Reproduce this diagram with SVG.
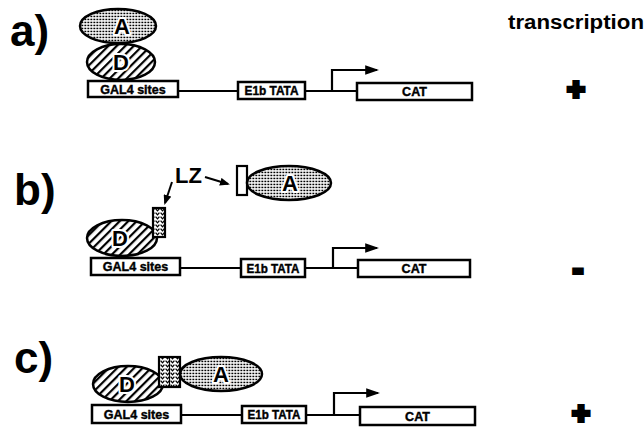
<svg xmlns="http://www.w3.org/2000/svg" width="644" height="430" viewBox="0 0 644 430">
  <style>
    .bg { fill: #ffffff; }
    .box { fill: #ffffff; stroke: #000; stroke-width: 2.5; }
    .dom { stroke: #000; stroke-width: 2.5; }
    .act { fill: url(#dots); }
    .dbd { fill: url(#hatch); }
    .wire { fill: none; stroke: #000; stroke-width: 2.2; }
    .ptr { fill: none; stroke: #000; stroke-width: 2; }
    text { font-family: "Liberation Sans", Arial, Helvetica, sans-serif; font-weight: bold; fill: #000; }
    .panel { font-size: 44px; }
    .boxlbl { font-size: 12.5px; text-anchor: middle; stroke: #000; stroke-width: 0.4; }
    .domlbl { font-size: 22px; text-anchor: middle; stroke: #fff; stroke-width: 4; paint-order: stroke; stroke-linejoin: round; }
    .sign { font-size: 30px; text-anchor: middle; stroke: #000; stroke-width: 4; }
  </style>
  <defs>
    <!-- stippled fill of the activation domain -->
    <pattern id="dots" width="3" height="3" patternUnits="userSpaceOnUse">
      <rect width="3" height="3" fill="#fff"/>
      <rect x="0.4" y="0.7" width="1.9" height="1.5" fill="#000"/>
    </pattern>
    <!-- diagonal hatching of the DNA-binding domain -->
    <pattern id="hatch" width="6" height="6" patternUnits="userSpaceOnUse" patternTransform="rotate(45)">
      <rect width="6" height="6" fill="#fff"/>
      <line x1="1" y1="0" x2="1" y2="6" stroke="#000" stroke-width="2.4"/>
    </pattern>
    <!-- chevrons of the leucine zipper -->
    <pattern id="zip" width="5" height="4" patternUnits="userSpaceOnUse">
      <rect width="5" height="4" fill="#fff"/>
      <path d="M0.6,0.6 L2.5,2.8 L4.4,0.6" fill="none" stroke="#000" stroke-width="1.3"/>
    </pattern>
    <marker id="head" viewBox="0 0 12 8" refX="10" refY="4" markerWidth="6.5" markerHeight="4.3" markerUnits="strokeWidth" orient="auto">
      <path d="M0,0 L12,4 L0,8 z" fill="#000"/>
    </marker>
    <marker id="tip" viewBox="0 0 10 8" refX="8" refY="4" markerWidth="5" markerHeight="4" markerUnits="strokeWidth" orient="auto">
      <path d="M0,0 L10,4 L0,8 z" fill="#000"/>
    </marker>
  </defs>

  <rect class="bg" width="644" height="430"/>

  <!-- connectors: DNA backbone, transcription start arrows, LZ pointers -->
  <g id="connectors">
    <path class="wire" d="M178,91 H238 M305,91 H357"/>
    <path class="wire" d="M332,91 V70 H377" marker-end="url(#head)"/>

    <path class="wire" d="M180,268 H241 M305,268 H358"/>
    <path class="wire" d="M333,268 V248 H377" marker-end="url(#head)"/>

    <path class="wire" d="M181,415 H242 M306,415 H360"/>
    <path class="wire" d="M334,415 V393 H378" marker-end="url(#head)"/>

    <path class="ptr" d="M172,182 L165,203" marker-end="url(#tip)"/>
    <path class="ptr" d="M205,177 L228,184" marker-end="url(#tip)"/>
  </g>

  <!-- panel labels and transcription column -->
  <text class="panel" x="10" y="46">a)</text>
  <text class="panel" x="14" y="205">b)</text>
  <text class="panel" x="14" y="373">c)</text>
  <text x="508" y="29" font-size="20" textLength="136" lengthAdjust="spacingAndGlyphs">transcription</text>
  <text class="sign" x="576" y="99">+</text>
  <text class="sign" x="578" y="279">-</text>
  <text class="sign" x="581" y="423">+</text>

  <!-- panel a: GAL4-D fused to A -->
  <g id="a-activator">
    <ellipse class="dom act" cx="118" cy="26" rx="38" ry="17"/>
    <text class="domlbl" x="122" y="34">A</text>
  </g>
  <g id="a-binder">
    <ellipse class="dom dbd" cx="121" cy="62" rx="34" ry="18"/>
    <text class="domlbl" x="121" y="70">D</text>
  </g>
  <g id="a-gal4">
    <rect class="box" x="88" y="81" width="90" height="16"/>
    <text class="boxlbl" x="133" y="93.5" font-size="11">GAL4 sites</text>
  </g>
  <g id="a-tata">
    <rect class="box" x="238" y="82" width="67" height="17"/>
    <text class="boxlbl" x="271.5" y="95" textLength="54" lengthAdjust="spacingAndGlyphs">E1b TATA</text>
  </g>
  <g id="a-cat">
    <rect class="box" x="357" y="83" width="115" height="17"/>
    <text class="boxlbl" x="414.5" y="96">CAT</text>
  </g>

  <!-- panel b: separate D-LZ and LZ-A -->
  <g id="b-binder">
    <ellipse class="dom dbd" cx="122" cy="238" rx="35" ry="18"/>
    <text class="domlbl" x="120" y="246">D</text>
    <rect x="153" y="208" width="12" height="29" fill="url(#zip)" stroke="#000" stroke-width="2.2"/>
  </g>
  <text x="175" y="183" font-size="22">LZ</text>
  <g id="b-activator">
    <rect x="237" y="166" width="10" height="29" fill="#fff" stroke="#000" stroke-width="2.2"/>
    <ellipse class="dom act" cx="289" cy="183" rx="42" ry="17"/>
    <text class="domlbl" x="290" y="191">A</text>
  </g>
  <g id="b-gal4">
    <rect class="box" x="91" y="258" width="89" height="17"/>
    <text class="boxlbl" x="135.5" y="271" font-size="11">GAL4 sites</text>
  </g>
  <g id="b-tata">
    <rect class="box" x="241" y="259" width="64" height="18"/>
    <text class="boxlbl" x="273" y="272.5" textLength="53" lengthAdjust="spacingAndGlyphs">E1b TATA</text>
  </g>
  <g id="b-cat">
    <rect class="box" x="358" y="260" width="112" height="17"/>
    <text class="boxlbl" x="414" y="273">CAT</text>
  </g>

  <!-- panel c: LZ dimer bridges D and A -->
  <g id="c-binder">
    <ellipse class="dom dbd" cx="128" cy="384" rx="35" ry="18"/>
    <text class="domlbl" x="127" y="392">D</text>
  </g>
  <g id="c-activator">
    <ellipse class="dom act" cx="221" cy="374" rx="41" ry="17"/>
    <text class="domlbl" x="221" y="382">A</text>
  </g>
  <g id="c-zipper">
    <rect x="159" y="357" width="21" height="30" fill="url(#zip)" stroke="#000" stroke-width="2.2"/>
    <line x1="169.5" y1="357" x2="169.5" y2="387" stroke="#000" stroke-width="1.2"/>
  </g>
  <g id="c-gal4">
    <rect class="box" x="92" y="405" width="89" height="18"/>
    <text class="boxlbl" x="136.5" y="418.5" font-size="11">GAL4 sites</text>
  </g>
  <g id="c-tata">
    <rect class="box" x="242" y="406" width="64" height="17"/>
    <text class="boxlbl" x="274" y="419" textLength="53" lengthAdjust="spacingAndGlyphs">E1b TATA</text>
  </g>
  <g id="c-cat">
    <rect class="box" x="360" y="407" width="115" height="18"/>
    <text class="boxlbl" x="417.5" y="420.5">CAT</text>
  </g>
</svg>
